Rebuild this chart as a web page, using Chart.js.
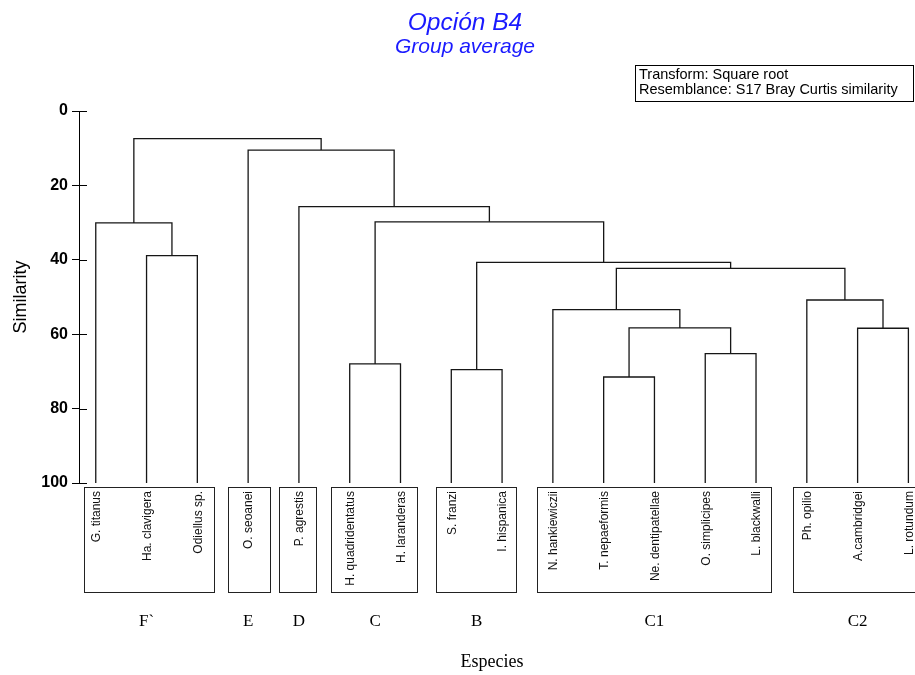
<!DOCTYPE html>
<html>
<head>
<meta charset="utf-8">
<script src="https://cdn.jsdelivr.net/npm/chart.js@4.4.1/dist/chart.umd.min.js"></script>
<style>
  html, body { margin: 0; padding: 0; background: #fff; }
  #wrap { width: 915px; height: 675px; position: relative; }
</style>
</head>
<body>
<div id="wrap"><canvas id="c" width="915" height="675"></canvas></div>
<script>
// Leaves of the dendrogram, left to right
const species = [
  'G. titanus', 'Ha. clavigera', 'Odiellus sp.', 'O. seoanei', 'P. agrestis',
  'H. quadridentatus', 'H. laranderas', 'S. franzi', 'I. hispanica',
  'N. hankiewiczii', 'T. nepaeformis', 'Ne. dentipatellae', 'O. simplicipes',
  'L. blackwalli', 'Ph. opilio', 'A.cambridgei', 'L. rotundum'
];

// Species groups (first and last leaf of each group)
const groupNames = ['F`', 'E', 'D', 'C', 'B', 'C1', 'C2'];
const groupFirst = [0, 3, 4, 5, 7, 9, 14];
const groupLast  = [2, 3, 4, 6, 8, 13, 16];

// Group-average linkage: node ids < 17 are leaves, 17 + k is the k-th merge
const mergeA = [1, 0, 5, 7, 10, 12, 21, 9, 15, 14, 24, 20, 19, 4, 3, 18];
const mergeB = [2, 17, 6, 8, 11, 13, 22, 23, 16, 25, 26, 27, 28, 29, 30, 31];
const mergeSimilarity = [38.9, 30.1, 68.0, 69.5, 71.5, 65.2, 58.3, 53.4, 58.4, 50.8, 42.3, 40.7, 29.8, 25.7, 10.5, 7.4];

const yTicks = [0, 20, 40, 60, 80, 100];

const titleText = 'Opción B4';
const subtitleText = 'Group average';
const infoLines = ['Transform: Square root', 'Resemblance: S17 Bray Curtis similarity'];
const xTitle = 'Especies';
const yTitle = 'Similarity';

// Node positions in data units (leaf index, similarity)
const nodeX = species.map((_, i) => i);
const nodeY = species.map(() => 100);
mergeA.forEach((a, k) => {
  const b = mergeB[k];
  nodeX.push((nodeX[a] + nodeX[b]) / 2);
  nodeY.push(mergeSimilarity[k]);
});

const LINE = '#161616';
const datasets = mergeA.map((a, k) => {
  const b = mergeB[k];
  const s = mergeSimilarity[k];
  return {
    data: [
      { x: nodeX[a], y: nodeY[a] },
      { x: nodeX[a], y: s },
      { x: nodeX[b], y: s },
      { x: nodeX[b], y: nodeY[b] }
    ],
    showLine: true,
    borderColor: LINE,
    borderWidth: 1.3,
    pointRadius: 0,
    fill: false,
    tension: 0
  };
});

const SANS = '"Liberation Sans", Arial, Helvetica, sans-serif';
const SERIF = '"Liberation Serif", "Times New Roman", serif';

// box padding around each group's leaves (px)
const boxPadL = [12, 20, 20, 19, 15, 16, 14];
const boxPadR = [17, 22, 17, 17, 14, 15, 14];

const decor = {
  id: 'decor',
  afterDraw(chart) {
    const { ctx, chartArea: area } = chart;
    const xs = chart.scales.x, ys = chart.scales.y;
    const base = ys.getPixelForValue(100);
    ctx.save();

    // inner part of the y tick marks
    ctx.strokeStyle = '#000';
    ctx.lineWidth = 1;
    yTicks.forEach(v => {
      const py = Math.round(ys.getPixelForValue(v)) + 0.5;
      ctx.beginPath();
      ctx.moveTo(area.left, py);
      ctx.lineTo(area.left + 8, py);
      ctx.stroke();
    });

    // group boxes
    ctx.strokeStyle = '#222';
    ctx.lineWidth = 1;
    groupNames.forEach((g, i) => {
      const l = Math.round(xs.getPixelForValue(groupFirst[i]) - boxPadL[i]) + 0.5;
      const r = Math.round(xs.getPixelForValue(groupLast[i]) + boxPadR[i]) + 0.5;
      const t = Math.round(base + 4) + 0.5;
      const b = Math.round(base + 109) + 0.5;
      ctx.strokeRect(l, t, r - l, b - t);
    });

    // leaf labels, rotated
    ctx.fillStyle = '#111';
    ctx.font = '12px ' + SANS;
    ctx.textAlign = 'right';
    ctx.textBaseline = 'middle';
    species.forEach((name, i) => {
      const px = xs.getPixelForValue(i);
      ctx.save();
      ctx.translate(px + 1, base + 8);
      ctx.rotate(-Math.PI / 2);
      ctx.fillText(name, 0, 0);
      ctx.restore();
    });

    // group letters
    ctx.fillStyle = '#000';
    ctx.font = '17px ' + SERIF;
    ctx.textAlign = 'center';
    ctx.textBaseline = 'middle';
    groupNames.forEach((g, i) => {
      const cx = (xs.getPixelForValue(groupFirst[i]) + xs.getPixelForValue(groupLast[i])) / 2;
      ctx.fillText(g, cx, base + 139);
    });

    // x title
    ctx.font = '18px ' + SERIF;
    ctx.fillText(xTitle, 492, base + 179);

    // title and subtitle
    ctx.fillStyle = '#1a1aff';
    ctx.textBaseline = 'alphabetic';
    ctx.font = 'italic 24.5px ' + SANS;
    ctx.fillText(titleText, 465, 30);
    ctx.font = 'italic 21px ' + SANS;
    ctx.fillText(subtitleText, 465, 53);

    // info box
    ctx.strokeStyle = '#000';
    ctx.lineWidth = 1;
    ctx.strokeRect(635.5, 65.5, 278, 36);
    ctx.fillStyle = '#000';
    ctx.textAlign = 'left';
    ctx.font = '14.5px ' + SANS;
    ctx.fillText(infoLines[0], 639, 79);
    ctx.fillText(infoLines[1], 639, 94);

    ctx.restore();
  }
};

new Chart(document.getElementById('c').getContext('2d'), {
  type: 'scatter',
  data: { datasets },
  options: {
    responsive: false,
    animation: false,
    layout: { padding: { top: 111, bottom: 192, left: 0, right: 0 } },
    plugins: {
      legend: { display: false },
      tooltip: { enabled: false },
      title: { display: false }
    },
    scales: {
      x: { type: 'linear', min: -0.33, max: 16.13, display: false },
      y: {
        type: 'linear',
        reverse: true,
        min: 0,
        max: 100,
        afterBuildTicks: s => { s.ticks = yTicks.map(v => ({ value: v })); },
        afterFit: s => { s.width = 79; },
        ticks: { font: { family: SANS, size: 16, weight: 'bold' }, color: '#000', padding: 4 },
        grid: { drawOnChartArea: false, drawTicks: true, tickLength: 7, color: '#000' },
        border: { display: true, color: '#000', width: 1 },
        title: {
          display: true,
          text: yTitle,
          color: '#000',
          font: { family: SANS, size: 18 },
          padding: { top: 10, bottom: 0 }
        }
      }
    }
  },
  plugins: [decor]
});
</script>
</body>
</html>
